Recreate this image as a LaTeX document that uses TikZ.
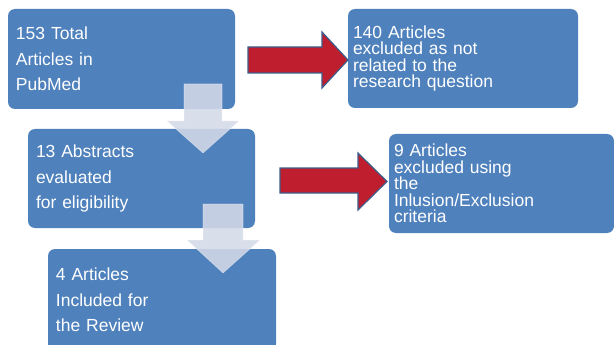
\documentclass[tikz,border=0pt]{standalone}
\usepackage{fontspec}
\setmainfont{Liberation Sans}
\definecolor{boxblue}{HTML}{4F81BD}
\definecolor{arrred}{HTML}{BE1E2D}
\definecolor{arredge}{HTML}{3B5E8C}
\definecolor{downfill}{RGB}{212,217,232}
\begin{document}
\begin{tikzpicture}[x=1pt,y=-1pt,
  box/.style={fill=boxblue, rounded corners=7pt, inner ysep=0pt, align=left, text=white},
  loose/.style={inner xsep=8pt, font={\fontsize{17.5}{25.5}\selectfont}},
  tight/.style={inner xsep=5pt, font={\fontsize{17.5}{16.5}\selectfont\lineskiplimit=-10pt}},
  redarrow/.style={fill=arrred, draw=arredge, line width=1.2pt, line join=miter},
  downarrow/.style={fill=downfill, fill opacity=0.88, draw=white, draw opacity=0.4, line width=0.6pt}]
\useasboundingbox (0,0) rectangle (614,345);
\clip (0,0) rectangle (614,345);
% boxes
\node[box, loose, minimum width=227pt, minimum height=100pt, text width=211pt] (total) at (121.5,59) {153 Total\\Articles in\\PubMed};
\node[box, tight, minimum width=230pt, minimum height=99pt, text width=220pt] (excl1) at (463,58.5) {140 Articles\\excluded as not\\related to the\\research question};
\node[box, loose, minimum width=227pt, minimum height=99pt, text width=211pt] (abstr) at (141.5,178.5) {13 Abstracts\\evaluated\\for eligibility};
\node[box, tight, minimum width=225pt, minimum height=99pt, text width=215pt] (excl2) at (501.5,183.5) {9 Articles\\excluded using\\the\\Inlusion/Exclusion\\criteria};
\node[box, loose, minimum width=228pt, minimum height=102pt, text width=212pt] (incl) at (162,300) {4 Articles\\Included for\\the Review};
% red arrows
\draw[redarrow] (248,47) -- (322,47) -- (322,32) -- (348,60) -- (322,88) -- (322,73) -- (248,73) -- cycle;
\draw[redarrow] (280,168) -- (358,168) -- (358,153) -- (387,181.5) -- (358,210) -- (358,193) -- (280,193) -- cycle;
% down arrows
\draw[downarrow] (184,84) -- (222,84) -- (222,121) -- (239,121) -- (203,153) -- (167,121) -- (184,121) -- cycle;
\draw[downarrow] (203,204) -- (243,204) -- (243,240) -- (260,240) -- (223,273) -- (187,240) -- (203,240) -- cycle;
\end{tikzpicture}
\end{document}
